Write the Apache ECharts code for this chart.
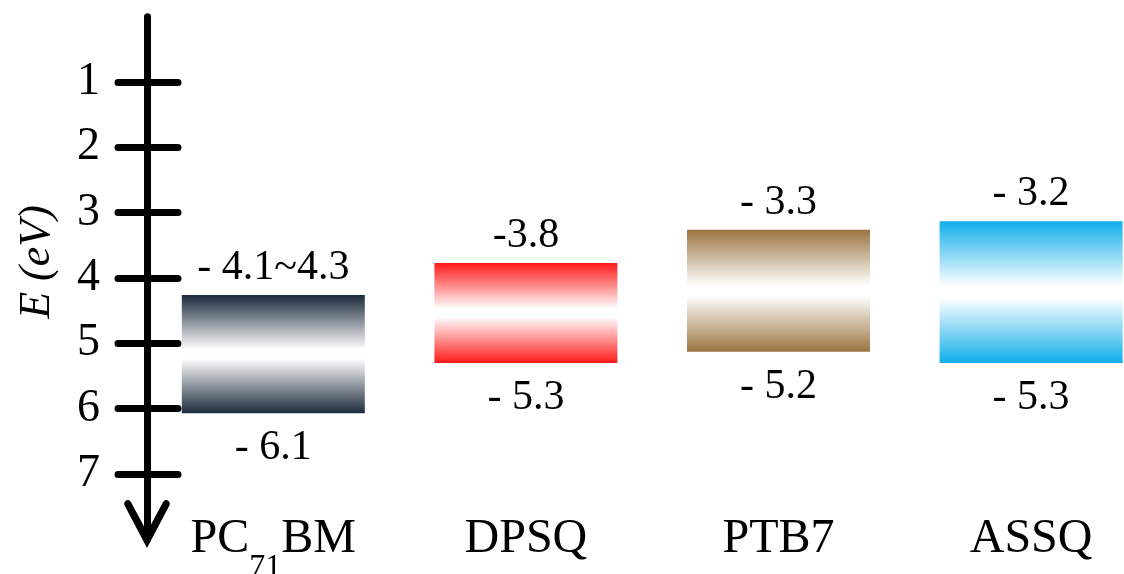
<!DOCTYPE html>
<html>
<head>
<meta charset="utf-8">
<script src="https://cdn.jsdelivr.net/npm/echarts@6/dist/echarts.min.js"></script>
<style>html,body{margin:0;padding:0;background:#fff}#c{width:1124px;height:574px}</style>
</head>
<body>
<div id="c"></div>
<script>
// ---- data ----
const categories = ['PC71BM', 'DPSQ', 'PTB7', 'ASSQ'];
const levelTop = [4.26, 3.77, 3.26, 3.13];     // upper edge of each band (eV below vacuum)
const levelBottom = [6.07, 5.30, 5.13, 5.30];  // lower edge of each band
const topLabels = ['- 4.1~4.3', '-3.8', '- 3.3', '- 3.2'];
const bottomLabels = ['- 6.1', '- 5.3', '- 5.2', '- 5.3'];
const tickValues = [1, 2, 3, 4, 5, 6, 7];
const bandColors = ['#1b2a3b', '#ff1a1a', '#9b7541', '#10aeea'];

const FONT = '"Liberation Serif", "Times New Roman", serif';
const chart = echarts.init(document.getElementById('c'), null, {renderer: 'canvas'});

const seriesData = categories.map((c, i) => [i, levelTop[i], levelBottom[i]]);

function grad(col) {
  return new echarts.graphic.LinearGradient(0, 0, 0, 1, [
    {offset: 0, color: col},
    {offset: 0.46, color: '#ffffff'},
    {offset: 0.54, color: '#ffffff'},
    {offset: 1, color: col}
  ]);
}

// open chevron arrow head (tip up in symbol space; rotated along the axis)
const arrowPath = 'path://M0,0 L21,40 Q22,43 19,44.5 Q16.5,45.5 15,43 L0,15 L-15,43 Q-16.5,45.5 -19,44.5 Q-22,43 -21,40 Z';

const yCommon = {
  type: 'value', inverse: true, min: 0, max: 8, position: 'left',
  splitLine: {show: false}
};

chart.setOption({
  animation: false,
  grid: {left: 147, top: 16.7, width: 1010.4, height: 522.6, containLabel: false, outerBoundsMode: 'none'},
  xAxis: {
    type: 'category', data: categories, position: 'bottom',
    axisLine: {show: false}, axisTick: {show: false},
    offset: -24,
    axisLabel: {
      margin: 0, verticalAlign: 'top', color: '#000',
      formatter: function (v) {
        const m = v.match(/^([A-Z]+)(\d+)([A-Z]+)$/);
        if (m && m[1] === 'PC') return '{n|' + m[1] + '}{s|' + m[2] + '}{n|' + m[3] + '}';
        return '{n|' + v + '}';
      },
      rich: {
        n: {fontFamily: FONT, fontSize: 48, lineHeight: 56, verticalAlign: 'top', color: '#000'},
        s: {fontFamily: FONT, fontSize: 32, lineHeight: 32, verticalAlign: 'top', padding: [36, 0, 0, 0], color: '#000'}
      }
    }
  },
  yAxis: [
    Object.assign({}, yCommon, {
      name: 'E (eV)', nameLocation: 'middle', nameGap: 88, nameRotate: 90,
      nameTextStyle: {fontFamily: FONT, fontSize: 44, fontStyle: 'italic', color: '#000', padding: [0, 0, 0, 32]},
      axisLine: {
        show: true, symbol: [arrowPath, 'none'], symbolSize: [46, 48], symbolOffset: [15.3, 0],
        lineStyle: {color: '#000', width: 7, cap: 'round'}
      },
      axisTick: {show: true, inside: false, length: 29, customValues: tickValues,
        lineStyle: {color: '#000', width: 7, cap: 'round'}},
      axisLabel: {show: true, customValues: tickValues, margin: 47, color: '#000',
        fontFamily: FONT, fontSize: 46, padding: [10, 0, 0, 0]}
    }),
    Object.assign({}, yCommon, {
      axisLine: {show: false},
      axisTick: {show: true, inside: true, length: 31, customValues: tickValues,
        lineStyle: {color: '#000', width: 7, cap: 'round'}},
      axisLabel: {show: false}
    })
  ],
  series: [{
    type: 'custom',
    xAxisIndex: 0, yAxisIndex: 0,
    data: seriesData,
    renderItem: function (params, api) {
      const idx = params.dataIndex;
      const x = api.value(0);
      const p1 = api.coord([x, api.value(1)]);
      const p2 = api.coord([x, api.value(2)]);
      const w = api.size([1, 0])[0] * 0.7245;
      return {
        type: 'group',
        children: [
          {type: 'rect', shape: {x: p1[0] - w / 2, y: p1[1], width: w, height: p2[1] - p1[1]},
            style: {fill: grad(bandColors[idx])}},
          {type: 'text', style: {text: topLabels[idx], x: p1[0], y: p1[1] - 6, align: 'center', verticalAlign: 'bottom',
            font: '42px ' + FONT, fill: '#000'}},
          {type: 'text', style: {text: bottomLabels[idx], x: p1[0], y: p2[1] + 14, align: 'center', verticalAlign: 'top',
            font: '42px ' + FONT, fill: '#000'}}
        ]
      };
    }
  }]
});
</script>
</body>
</html>
